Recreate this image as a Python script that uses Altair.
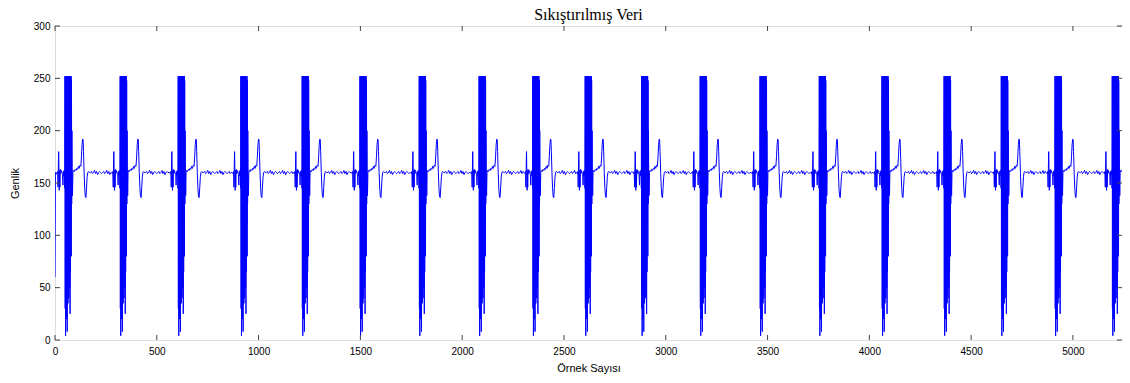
import altair as alt
import pandas as pd

# ---- data ----
N_SAMPLES = 5276
X_VIEW_MAX = 5241
FIRST_X = [0, 2, 4]
FIRST_Y = [60, 160, 158]
BEAT_STARTS = [48, 319, 604, 912, 1213, 1497, 1788, 2082, 2346, 2603,
               2880, 3168, 3462, 3753, 4061, 4366, 4647, 4911, 5192]
PRE_OFFSETS = [-42, -38, -35, -33, -31, -30, -29, -28, -27, -26, -25, -24,
               -22, -20, -17, -14, -11, -9, -7, -5, -3, -1]
PRE_VALUES = [160, 159, 161, 146, 172, 180, 169, 150, 143, 162, 154, 146,
              163, 159, 162, 160, 158, 148, 161, 157, 162, 160]
BURST_VALUES = [145, 252, 30, 252, 4, 251, 60, 252, 20, 252, 45, 252,
                8, 252, 55, 250, 35, 252, 70, 252, 40, 252, 90, 251,
                50, 252, 25, 252, 65, 252, 110, 252, 80, 248, 130, 200]
POST_OFFSETS = [36, 38, 40, 43, 47, 51, 55, 59, 63, 67, 71, 75, 79, 82,
                85, 88, 90, 92, 95, 98, 101, 104, 107, 110, 113, 117, 121]
POST_VALUES = [165, 138, 160, 162, 161, 163, 162, 164, 163, 166, 164, 167,
               166, 175, 187, 192, 191, 180, 160, 145, 137, 136, 146, 156,
               160, 161, 160]
BASELINE_JITTER = [160, 161, 159, 160, 162, 159, 161, 158, 160, 161, 160, 159]

X_TICKS = [0, 500, 1000, 1500, 2000, 2500, 3000, 3500, 4000, 4500, 5000]
Y_TICKS = [0, 50, 100, 150, 200, 250, 300]

TITLE = "Sıkıştırılmış Veri"
X_TITLE = "Örnek Sayısı"
Y_TITLE = "Genlik"

# ---- assemble the series ----
pts = {}
for x, y in zip(FIRST_X, FIRST_Y):
    pts[x] = y
for i, b in enumerate(BEAT_STARTS):
    for o, v in zip(PRE_OFFSETS, PRE_VALUES):
        pts[b + o] = v
    for k, v in enumerate(BURST_VALUES):
        pts[b + k] = v
    for o, v in zip(POST_OFFSETS, POST_VALUES):
        pts[b + o] = v
    gap_start = b + POST_OFFSETS[-1] + 5
    gap_end = BEAT_STARTS[i + 1] + PRE_OFFSETS[0] if i + 1 < len(BEAT_STARTS) else N_SAMPLES
    j = 0
    for s in range(gap_start, gap_end - 2, 5):
        pts[s] = BASELINE_JITTER[j % len(BASELINE_JITTER)]
        j += 1

xs = sorted(k for k in pts if 0 <= k < N_SAMPLES)
df = pd.DataFrame({"x": xs, "y": [pts[k] for k in xs]})
xt = pd.DataFrame({"x": X_TICKS})
yt = pd.DataFrame({"y": Y_TICKS})

W, H = 1067, 314
AX = "#404040"
TXT = "#262626"

xscale = alt.Scale(domain=[0, X_VIEW_MAX], nice=False, zero=False)
yscale = alt.Scale(domain=[0, 300], nice=False)
xaxis = alt.Axis(values=X_TICKS, title=X_TITLE, ticks=False, domain=False,
                 grid=False, labelPadding=6, titlePadding=6, format="d",
                 titleFontWeight="normal", labelFlush=False, labelOverlap=False)
yaxis = alt.Axis(values=Y_TICKS, title=Y_TITLE, ticks=False, domain=False,
                 grid=False, labelPadding=5, titlePadding=13, format="d",
                 titleFontWeight="normal", labelFlush=False, labelOverlap=False)

line = alt.Chart(df).mark_line(color="#0000FF", strokeWidth=1, clip=True).encode(
    x=alt.X("x:Q", scale=xscale, axis=xaxis),
    y=alt.Y("y:Q", scale=yscale, axis=yaxis),
)

tick_bottom = alt.Chart(xt).mark_rule(color=AX, strokeWidth=1).encode(
    x=alt.X("x:Q", scale=xscale, axis=xaxis),
    y=alt.value(H), y2=alt.value(H - 5))
tick_top = alt.Chart(xt).mark_rule(color=AX, strokeWidth=1).encode(
    x=alt.X("x:Q", scale=xscale, axis=xaxis),
    y=alt.value(0), y2=alt.value(5))
tick_left = alt.Chart(yt).mark_rule(color=AX, strokeWidth=1).encode(
    y=alt.Y("y:Q", scale=yscale, axis=yaxis),
    x=alt.value(0), x2=alt.value(5))
tick_right = alt.Chart(yt).mark_rule(color=AX, strokeWidth=1).encode(
    y=alt.Y("y:Q", scale=yscale, axis=yaxis),
    x=alt.value(W), x2=alt.value(W - 5))

chart = alt.layer(line, tick_bottom, tick_top, tick_left, tick_right).properties(
    width=W, height=H,
    title=alt.TitleParams(TITLE, font="Liberation Serif", fontSize=16,
                          fontWeight="normal", color="#000000", offset=-2,
                          frame="group"),
    autosize=alt.AutoSizeParams(type="none"),
    padding={"left": 47, "top": 18, "right": 0, "bottom": 35},
).configure_view(stroke=AX, strokeWidth=1).configure_axis(
    labelFont="DejaVu Sans", labelFontSize=11, labelColor=TXT,
    titleFont="DejaVu Sans", titleFontSize=11, titleColor=TXT,
    titleFontWeight="normal",
).configure(background="#ffffff")

chart.save("out.html", embed_options={"renderer": "svg", "actions": False})
